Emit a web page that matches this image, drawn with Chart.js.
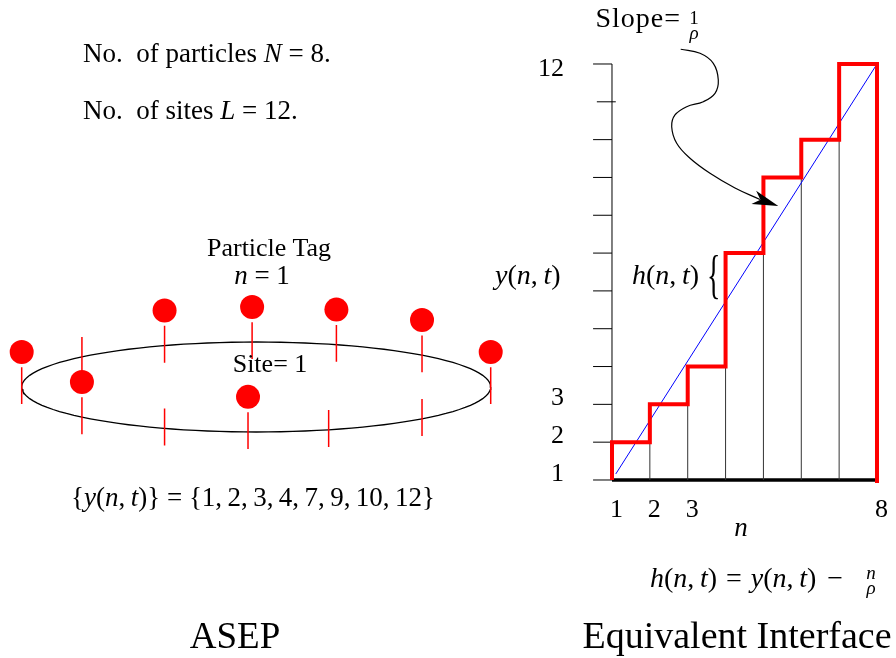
<!DOCTYPE html>
<html>
<head>
<meta charset="utf-8">
<script src="https://cdn.jsdelivr.net/npm/chart.js@4.4.1/dist/chart.umd.min.js"></script>
<style>
    body { margin: 0; background: #fff; }
    #wrap { position: relative; width: 896px; height: 658px; overflow: hidden; }
    #chart { position: absolute; left: 0; top: 0; }
    .t { position: absolute; font-family: "Liberation Serif", "Times New Roman", serif; line-height: 1; white-space: nowrap; color: #000; }
    .t i { font-style: italic; }
    .rel { display: inline-block; margin: 0 9px; }
    .bin { display: inline-block; margin: 0 0 0 11px; }
</style>
</head>
<body>
<div id="wrap"><canvas id="chart" width="896" height="658"></canvas></div>
<script>
// 粒子編號 n 與它所在的格點 y(n,t)，左邊的環和右邊的階梯都用同一組資料
const particleTags = [1, 2, 3, 4, 5, 6, 7, 8];
const particleSites = [1, 2, 3, 4, 7, 9, 10, 12];

// 12 個格點在環上的角度（度，0 = 右端，90 = 後方正中）
const siteNumbers = [1, 2, 3, 4, 5, 6, 7, 8, 9, 10, 11, 12];
const siteAngles = [91, 70, 45, 0, -45, -72, -92, -113, -138, 180, 138, 113];

// 右圖刻度
const yTickValues = [1, 2, 3, 4, 5, 6, 7, 8, 9, 10, 11, 12];
const yTickLabels = ["1", "2", "3", "", "", "", "", "", "", "", "", "12"];
const xTickValues = [1, 2, 3, 8];
const xTickLabels = ["1", "2", "3", "8"];

// 斜率 1/ρ 的藍線（n, y）
const slopeLineN = [1.1, 8];
const slopeLineY = [1.16, 12];

// 從 "Slope=" 彎到藍線的箭頭（n, y）
const arrowPathN = [2.815, 3.325, 3.676, 3.808, 3.721, 3.412, 2.973, 2.664, 2.577, 2.709, 3.060, 3.589, 4.249, 4.909];
const arrowPathY = [12.389, 12.283, 12.018, 11.577, 11.225, 11.003, 10.871, 10.652, 10.342, 9.903, 9.507, 9.110, 8.721, 8.417];
const arrowTipN = 5.393;
const arrowTipY = 8.245;

// 紅色階梯：y(n) -> y(n+1)，最後在 n = 8 掉回底線
const stairs = [];
particleTags.forEach((n, i) => {
    stairs.push({ x: n, y: particleSites[i] });
    if (i < particleTags.length - 1) {
        stairs.push({ x: n, y: particleSites[i + 1] });
    }
});
stairs.push({ x: particleTags[particleTags.length - 1], y: 0.92 });

// 每個粒子底下的細直線
const columns = [];
particleTags.slice(1, -1).forEach((n, i) => {
    columns.push({ x: n, y: 1 }, { x: n, y: particleSites[i + 1] }, { x: n, y: null });
});

const yTicks = [];
yTickValues.forEach((v) => {
    const shift = v === 11 ? 0.1 : 0;
    yTicks.push({ x: 0.5 + shift, y: v }, { x: 1 + shift, y: v }, { x: 1, y: null });
});

// 環：單位圓在左邊的座標系裡會被拉成橢圓
const ring = [];
for (let a = 0; a <= 360; a += 3) {
    const r = a * Math.PI / 180;
    ring.push({ x: Math.cos(r), y: Math.sin(r) });
}

const sticks = [];
siteNumbers.forEach((s, i) => {
    const r = siteAngles[i] * Math.PI / 180;
    sticks.push({ x: Math.cos(r), y: Math.sin(r) + 0.44 }, { x: Math.cos(r), y: Math.sin(r) - 0.38 }, { x: Math.cos(r), y: null });
});

const balls = particleSites.map((s) => {
    const r = siteAngles[siteNumbers.indexOf(s)] * Math.PI / 180;
    return { x: Math.cos(r), y: Math.sin(r) + 0.78 };
});

function lineSet(data, color, width, axes, extra) {
    return Object.assign({
        data: data,
        showLine: true,
        borderColor: color,
        borderWidth: width,
        pointRadius: 0,
        fill: false,
        spanGaps: false,
        xAxisID: axes[0],
        yAxisID: axes[1]
    }, extra || {});
}

const R = ["x", "y"];
const L = ["xL", "yL"];

const datasets = [
    lineSet(stairs, "#ff0000", 4, R, { borderJoinStyle: "miter" }),
    lineSet(slopeLineN.map((n, i) => ({ x: n, y: slopeLineY[i] })), "#0000ff", 1, R),
    lineSet(columns, "#333333", 1, R),
    lineSet([{ x: 1, y: 1 }, { x: 1, y: 12 }], "#000000", 1, R),
    lineSet(yTicks, "#000000", 1, R),
    lineSet([{ x: 1, y: 1 }, { x: 8, y: 1 }], "#000000", 3.5, R),
    lineSet(arrowPathN.map((n, i) => ({ x: n, y: arrowPathY[i] })), "#000000", 1.2, R, { tension: 0.4 }),
    {
        data: balls,
        showLine: false,
        pointRadius: 12,
        pointBackgroundColor: "#ff0000",
        pointBorderWidth: 0,
        xAxisID: "xL",
        yAxisID: "yL"
    },
    lineSet(sticks, "#ff0000", 1.5, L),
    lineSet(ring, "#000000", 1.3, L)
];

const tickLabelPlugin = {
    id: "tickLabels",
    afterDatasetsDraw(chart) {
        const ctx = chart.ctx;
        const xs = chart.scales.x;
        const ys = chart.scales.y;
        ctx.save();
        ctx.font = '26px "Liberation Serif", serif';
        ctx.fillStyle = "#000";
        ctx.textBaseline = "alphabetic";
        ctx.textAlign = "right";
        yTickValues.forEach((v, i) => {
            if (!yTickLabels[i]) return;
            const drop = v === 12 ? 12 : 1;
            ctx.fillText(yTickLabels[i], xs.getPixelForValue(1) - 48, ys.getPixelForValue(v) + drop);
        });
        ctx.textAlign = "left";
        xTickValues.forEach((v, i) => {
            ctx.fillText(xTickLabels[i], xs.getPixelForValue(v) - 2, ys.getPixelForValue(1) + 37);
        });
        ctx.restore();
    }
};

// 箭頭尖端：沿著曲線最後一段的方向畫一個尖角
const arrowHeadPlugin = {
    id: "arrowHead",
    afterDatasetsDraw(chart) {
        const ctx = chart.ctx;
        const xs = chart.scales.x;
        const ys = chart.scales.y;
        const last = arrowPathN.length - 1;
        const tipX = xs.getPixelForValue(arrowTipN);
        const tipY = ys.getPixelForValue(arrowTipY);
        const fromX = xs.getPixelForValue(arrowPathN[last]);
        const fromY = ys.getPixelForValue(arrowPathY[last]);
        const angle = Math.atan2(tipY - fromY, tipX - fromX);
        ctx.save();
        ctx.translate(tipX, tipY);
        ctx.rotate(angle);
        ctx.fillStyle = "#000";
        ctx.beginPath();
        ctx.moveTo(0, 0);
        ctx.lineTo(-26, -7);
        ctx.lineTo(-19, 0);
        ctx.lineTo(-26, 7);
        ctx.closePath();
        ctx.fill();
        ctx.restore();
    }
};

// 四條軸都不顯示，範圍是依照原圖的像素位置換算出來的
// autoPadding 要關掉，不然圓點半徑會讓繪圖區往內縮
const hiddenAxis = { type: "linear", display: false, bounds: "data" };

new Chart(document.getElementById("chart"), {
    type: "scatter",
    data: { datasets: datasets },
    options: {
        responsive: false,
        animation: false,
        devicePixelRatio: 1,
        events: [],
        layout: { padding: 0, autoPadding: false },
        plugins: { legend: { display: false }, tooltip: { enabled: false } },
        scales: {
            x: Object.assign({}, hiddenAxis, { min: -15.166, max: 8.502 }),
            y: Object.assign({}, hiddenAxis, { min: -3.707, max: 13.692 }),
            xL: Object.assign({}, hiddenAxis, { axis: "x", min: -1.0925, max: 2.7283 }),
            yL: Object.assign({}, hiddenAxis, { axis: "y", min: -6.0222, max: 8.6 })
        }
    },
    plugins: [tickLabelPlugin, arrowHeadPlugin]
});

// 文字用 HTML 疊在畫布上，baseline 對齊
function addText(html, x, baseline, size, align) {
    const div = document.createElement("div");
    div.className = "t";
    div.innerHTML = html;
    div.style.fontSize = size + "px";
    div.style.left = x + "px";
    div.style.top = (baseline - 0.8375 * size) + "px";
    if (align === "center") div.style.transform = "translateX(-50%)";
    if (align === "right") div.style.transform = "translateX(-100%)";
    document.getElementById("wrap").appendChild(div);
    return div;
}

addText("No.&nbsp; of particles <i>N</i> = 8.", 83, 63, 27);
addText("No.&nbsp; of sites <i>L</i> = 12.", 83, 120, 27);
addText("Particle Tag", 269, 257, 26, "center");
addText("<i>n</i> = 1", 262, 285, 27, "center");
addText("Site= 1", 270, 373, 26, "center");
addText("{<i>y</i>(<i>n</i>,&thinsp;<i>t</i>)} = {1,&thinsp;2,&thinsp;3,&thinsp;4,&thinsp;7,&thinsp;9,&thinsp;10,&thinsp;12}", 253, 507, 27, "center");
addText("ASEP", 235, 648, 37, "center");
addText("Equivalent Interface", 737, 648, 38, "center");

const slope = addText("Slope=", 681, 27, 28, "right");
slope.style.letterSpacing = "1px";
addText("1", 694, 24, 19, "center");
addText("<i>ρ</i>", 694, 39, 19, "center");

addText("<i>y</i>(<i>n</i>,&thinsp;<i>t</i>)", 495, 284, 28);
addText("<i>h</i>(<i>n</i>,&thinsp;<i>t</i>)", 632, 284, 28);
const brace = addText("{", 707, 286, 28);
brace.style.transformOrigin = "50% 59%";
brace.style.transform = "scaleY(1.9)";
addText("<i>n</i>", 741, 537, 27, "center");

addText("<i>h</i>(<i>n</i>,&thinsp;<i>t</i>)<span class=\"rel\">=</span><i>y</i>(<i>n</i>,&thinsp;<i>t</i>)<span class=\"bin\">−</span>", 650, 587, 28);
addText("<i>n</i>", 871, 579, 19, "center");
addText("<i>ρ</i>", 871, 594, 19, "center");
</script>
</body>
</html>
